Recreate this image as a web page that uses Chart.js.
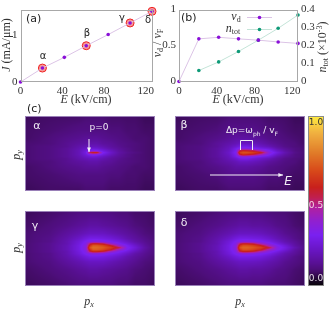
<!DOCTYPE html>
<html>
<head>
<meta charset="utf-8">
<script src="https://cdn.jsdelivr.net/npm/chart.js@4"></script>
<style>
    html, body { margin: 0; padding: 0; background: #fff; }
    #page { position: relative; width: 330px; height: 315px; overflow: hidden; }
    canvas { position: absolute; }
</style>
</head>
<body>
<div id="page">
    <canvas id="chartA" width="165" height="110" style="left:0;top:0"></canvas>
    <canvas id="chartB" width="180" height="110" style="left:150px;top:0"></canvas>
    <canvas id="panelAlpha" width="165" height="100" style="left:0;top:100px"></canvas>
    <canvas id="panelBeta" width="141" height="100" style="left:165px;top:100px"></canvas>
    <canvas id="panelGamma" width="165" height="115" style="left:0;top:200px"></canvas>
    <canvas id="panelDelta" width="141" height="115" style="left:165px;top:200px"></canvas>
    <canvas id="colorBar" width="24" height="190" style="left:306px;top:106px"></canvas>
</div>
<script>
// field values (kV/cm)
const fields = [0, 21, 42, 63, 84, 105, 126];
const fieldTicks = [0, 40, 80, 120];

// panel (a)
const currentValues = [0, 0.30, 0.53, 0.78, 1.02, 1.27, 1.52];
const markedFields = [21, 63, 105, 126];
const markedCurrents = [0.30, 0.78, 1.27, 1.52];
const currentTicks = [0, 1];

// panel (b)
const driftValues = [0, 0.593, 0.615, 0.593, 0.575, 0.55, 0.53];
const densityFields = [21, 42, 63, 84, 105, 126];
const densityValues = [0.061, 0.109, 0.167, 0.23, 0.296, 0.37];
const driftTicks = [0, 0.5, 1];
const densityTicks = [0, 0.1, 0.2, 0.3, 0.4];

// colour scale
const mapLevels = [0, 0.04, 0.08, 0.10, 0.14, 0.22, 0.30, 0.38, 0.46, 0.52, 0.58, 0.68, 0.78, 0.90, 1];
const mapColors = ['#050205', '#1f0730', '#430c66', '#4e0e7c', '#5a1098', '#6a16c8', '#7a20f0', '#9020d0',
    '#b020a0', '#c01f50', '#c8201c', '#d84a1a', '#e07a28', '#f0b040', '#ffec40'];
const barLevels = [0, 0.5, 1];

// heat map nodes, rows are mirrored about py = 0
const pxNodes = [0, 25, 42, 54, 61, 65, 68, 72, 78, 86, 94, 102, 110, 120, 130];
const pyNodes = [0, 2, 4, 6, 9, 14, 22, 38];

const alphaRows = [
    [.09, .11, .14, .19, .27, .55, .60, .60, .31, .22, .16, .13, .11, .09, .08],
    [.09, .11, .14, .19, .25, .30, .32, .31, .26, .20, .15, .12, .10, .09, .08],
    [.09, .11, .14, .18, .22, .24, .25, .24, .21, .17, .14, .12, .10, .09, .08],
    [.09, .11, .13, .17, .19, .20, .20, .20, .18, .15, .13, .11, .10, .09, .08],
    [.09, .10, .13, .15, .16, .17, .17, .17, .15, .14, .12, .11, .10, .09, .08],
    [.08, .10, .12, .13, .14, .14, .14, .14, .13, .12, .11, .10, .09, .09, .08],
    [.08, .09, .10, .11, .11, .11, .11, .11, .11, .10, .10, .09, .09, .08, .08],
    [.07, .08, .08, .08, .09, .09, .09, .09, .09, .08, .08, .08, .08, .07, .07]
];
const betaRows = [
    [.09, .11, .15, .22, .32, .66, .70, .70, .66, .58, .36, .26, .18, .12, .09],
    [.09, .11, .15, .21, .30, .54, .60, .58, .54, .42, .31, .22, .16, .11, .09],
    [.09, .11, .15, .20, .28, .34, .36, .35, .32, .28, .25, .18, .14, .11, .09],
    [.09, .11, .14, .19, .23, .27, .28, .28, .25, .22, .19, .15, .12, .10, .09],
    [.09, .10, .14, .17, .19, .21, .21, .21, .20, .18, .15, .13, .11, .10, .08],
    [.08, .10, .12, .14, .16, .16, .16, .16, .15, .14, .12, .11, .10, .09, .08],
    [.08, .09, .10, .12, .12, .12, .12, .12, .12, .11, .10, .10, .09, .08, .08],
    [.07, .08, .08, .09, .09, .09, .09, .09, .09, .09, .08, .08, .08, .07, .07]
];
const gammaRows = [
    [.09, .13, .19, .27, .36, .70, .76, .75, .72, .65, .54, .32, .25, .16, .10],
    [.09, .13, .19, .27, .35, .62, .72, .72, .68, .58, .40, .30, .23, .15, .10],
    [.09, .13, .18, .26, .33, .52, .58, .58, .54, .40, .31, .26, .20, .14, .10],
    [.09, .12, .18, .25, .31, .33, .35, .35, .33, .30, .27, .22, .17, .13, .10],
    [.09, .12, .17, .22, .26, .28, .28, .28, .27, .25, .22, .18, .15, .12, .09],
    [.09, .11, .15, .18, .20, .21, .21, .21, .21, .19, .17, .15, .13, .10, .09],
    [.08, .10, .12, .14, .15, .16, .16, .16, .15, .14, .13, .12, .10, .09, .08],
    [.07, .08, .09, .10, .10, .10, .10, .10, .10, .10, .09, .09, .08, .08, .07]
];
const deltaRows = [
    [.09, .13, .19, .27, .36, .70, .74, .74, .71, .66, .55, .34, .27, .18, .11],
    [.09, .13, .19, .27, .35, .63, .70, .70, .67, .59, .42, .32, .25, .16, .11],
    [.09, .13, .18, .26, .33, .52, .57, .57, .54, .42, .33, .27, .21, .15, .10],
    [.09, .12, .18, .25, .31, .33, .35, .35, .34, .31, .28, .23, .18, .14, .10],
    [.09, .12, .17, .22, .26, .28, .28, .28, .27, .26, .23, .19, .16, .12, .09],
    [.09, .11, .15, .18, .20, .21, .21, .21, .21, .20, .18, .16, .13, .11, .09],
    [.08, .10, .12, .14, .15, .16, .16, .16, .15, .15, .14, .12, .11, .09, .08],
    [.07, .08, .09, .10, .10, .10, .10, .10, .10, .10, .09, .09, .09, .08, .07]
];

const SANS = '"DejaVu Sans"';
const SERIF = '"Liberation Serif"';
const AXIS_COLOR = '#333';
const WHITE = '#f0ecf4';
const LINE_PURPLE = '#dcc4e6';
const LINE_GREEN = '#c4e4d8';
const MARK_PURPLE = '#8a10d8';
const MARK_GREEN = '#0f9a78';

function hexToRgb(hex) {
    return [1, 3, 5].map(i => parseInt(hex.substr(i, 2), 16));
}

// position of v between two neighbouring nodes
function bracket(nodes, v) {
    let i = 0;
    while (i < nodes.length - 2 && v > nodes[i + 1]) i++;
    const t = (v - nodes[i]) / (nodes[i + 1] - nodes[i]);
    return [i, Math.min(1, Math.max(0, t))];
}

function colorOf(v) {
    const [i, t] = bracket(mapLevels, v);
    const a = hexToRgb(mapColors[i]);
    const b = hexToRgb(mapColors[i + 1]);
    return a.map((c, k) => c + (b[k] - c) * t);
}

// text label on the canvas
function label(ctx, text, x, y, font, color, align) {
    ctx.save();
    ctx.font = font;
    ctx.fillStyle = color;
    ctx.textAlign = align || 'center';
    ctx.textBaseline = 'middle';
    ctx.fillText(text, x, y);
    ctx.restore();
}

// mixed italic / subscript text, centred on x, y
function richLabel(ctx, runs, x, y, angle, color) {
    ctx.save();
    ctx.translate(x, y);
    ctx.rotate(angle || 0);
    ctx.textBaseline = 'middle';
    ctx.textAlign = 'left';
    ctx.fillStyle = color || AXIS_COLOR;
    let width = 0;
    runs.forEach(r => { ctx.font = r.font; width += ctx.measureText(r.text).width; });
    let pos = -width / 2;
    runs.forEach(r => {
        ctx.font = r.font;
        ctx.fillText(r.text, pos, r.dy || 0);
        pos += ctx.measureText(r.text).width;
    });
    ctx.restore();
}

function framePlugin(color) {
    return {
        id: 'frame',
        afterDraw(chart) {
            const a = chart.chartArea;
            const ctx = chart.ctx;
            ctx.save();
            ctx.strokeStyle = color;
            ctx.lineWidth = 1;
            ctx.strokeRect(Math.round(a.left) + 0.5, Math.round(a.top) + 0.5,
                Math.round(a.width) - 1, Math.round(a.height) - 1);
            ctx.restore();
        }
    };
}

function textPlugin(draw) {
    return {
        id: 'texts',
        afterDraw(chart) { draw(chart.ctx, chart); }
    };
}

// paints the value grid through the chart scales
function heatPlugin(xNodes, yNodes, rows, mirrored) {
    return {
        id: 'heat',
        beforeDatasetsDraw(chart) {
            const a = chart.chartArea;
            const w = Math.round(a.width);
            const h = Math.round(a.height);
            const image = chart.ctx.createImageData(w, h);
            for (let py = 0; py < h; py++) {
                let yv = chart.scales.y.getValueForPixel(a.top + py + 0.5);
                if (mirrored) yv = Math.abs(yv);
                const [j, tj] = bracket(yNodes, yv);
                for (let px = 0; px < w; px++) {
                    const xv = chart.scales.x.getValueForPixel(a.left + px + 0.5);
                    const [i, ti] = xNodes.length > 1 ? bracket(xNodes, xv) : [0, 0];
                    const r0 = rows[j], r1 = rows[j + 1];
                    const i1 = Math.min(i + 1, r0.length - 1);
                    const low = r0[i] + (r0[i1] - r0[i]) * ti;
                    const high = r1[i] + (r1[i1] - r1[i]) * ti;
                    const c = colorOf(low + (high - low) * tj);
                    const k = (py * w + px) * 4;
                    image.data[k] = c[0];
                    image.data[k + 1] = c[1];
                    image.data[k + 2] = c[2];
                    image.data[k + 3] = 255;
                }
            }
            chart.ctx.putImageData(image, Math.round(a.left), Math.round(a.top));
        }
    };
}

function tickScale(ticks, extra) {
    return Object.assign({
        afterBuildTicks(scale) { scale.ticks = ticks.map(v => ({ value: v })); },
        grid: { display: false, drawTicks: false },
        border: { display: false },
        ticks: {
            autoSkip: false,
            maxRotation: 0,
            padding: 3,
            color: AXIS_COLOR,
            font: { family: 'Liberation Serif', size: 11 },
            callback: v => String(v)
        }
    }, extra);
}

function fixedWidth(w) {
    return function(scale) { scale.width = w; };
}

function fixedHeight(h) {
    return function(scale) { scale.height = h; };
}

function pairs(xs, ys) {
    return xs.map((x, i) => ({ x: x, y: ys[i] }));
}

function fieldLabel(ctx, x, y) {
    richLabel(ctx, [
        { text: 'E', font: 'italic 12px ' + SERIF },
        { text: ' (kV/cm)', font: '12px ' + SERIF }
    ], x, y);
}

function createCurrentChart() {
    new Chart(document.getElementById('chartA'), {
        type: 'scatter',
        data: {
            datasets: [{
                data: pairs(fields, currentValues),
                showLine: true,
                borderColor: LINE_PURPLE,
                borderWidth: 1,
                pointRadius: 1.8,
                pointBackgroundColor: MARK_PURPLE,
                pointBorderWidth: 0,
                clip: false
            }, {
                data: pairs(markedFields, markedCurrents),
                pointRadius: 4,
                pointBackgroundColor: '#f59a9a',
                pointBorderColor: '#f02020',
                pointBorderWidth: 1,
                clip: false
            }]
        },
        options: {
            responsive: false,
            animation: false,
            layout: { padding: { top: 8, right: 13 } },
            plugins: { legend: { display: false }, tooltip: { enabled: false } },
            scales: {
                x: tickScale(fieldTicks, { min: 0, max: 126, afterFit: fixedHeight(28) }),
                y: tickScale(currentTicks, { min: 0, max: 1.557, afterFit: fixedWidth(20.5) })
            }
        },
        plugins: [framePlugin('#a8a8a8'), textPlugin(function(ctx) {
            label(ctx, '(a)', 26, 19, '11px ' + SANS, '#222', 'left');
            label(ctx, 'α', 43, 56, '10px ' + SANS, '#222');
            label(ctx, 'β', 87, 33, '10px ' + SANS, '#222');
            label(ctx, 'γ', 122, 18, '10px ' + SANS, '#222');
            label(ctx, 'δ', 148, 20, '10px ' + SANS, '#222');
            fieldLabel(ctx, 86, 100);
            richLabel(ctx, [
                { text: 'J', font: 'italic 12px ' + SERIF },
                { text: ' (mA/μm)', font: '12px ' + SERIF }
            ], 7, 45, -Math.PI / 2);
        })]
    });
}

function createDriftChart() {
    new Chart(document.getElementById('chartB'), {
        type: 'scatter',
        data: {
            datasets: [{
                data: pairs(fields, driftValues),
                showLine: true,
                borderColor: LINE_PURPLE,
                borderWidth: 1,
                pointRadius: 1.8,
                pointBackgroundColor: MARK_PURPLE,
                pointBorderWidth: 0,
                clip: false
            }, {
                data: pairs(densityFields, densityValues),
                yAxisID: 'y1',
                showLine: true,
                borderColor: LINE_GREEN,
                borderWidth: 1,
                pointRadius: 1.8,
                pointBackgroundColor: MARK_GREEN,
                pointBorderWidth: 0,
                clip: false
            }]
        },
        options: {
            responsive: false,
            animation: false,
            layout: { padding: { top: 8.5 } },
            plugins: { legend: { display: false }, tooltip: { enabled: false } },
            scales: {
                x: tickScale(fieldTicks, { min: 0, max: 126, afterFit: fixedHeight(28.5) }),
                y: tickScale(driftTicks, { min: 0, max: 1, afterFit: fixedWidth(29) }),
                y1: tickScale(densityTicks, { min: 0, max: 0.4, position: 'right', afterFit: fixedWidth(32) })
            }
        },
        plugins: [framePlugin('#a8a8a8'), textPlugin(function(ctx) {
            label(ctx, '(b)', 31, 18, '11px ' + SANS, '#222', 'left');
            fieldLabel(ctx, 88, 100);
            richLabel(ctx, [
                { text: 'v', font: 'italic 12px ' + SERIF },
                { text: 'd', font: '8px ' + SERIF, dy: 3 },
                { text: ' / ', font: '12px ' + SERIF },
                { text: 'v', font: 'italic 12px ' + SERIF },
                { text: 'F', font: '8px ' + SERIF, dy: 3 }
            ], 8, 43, -Math.PI / 2);
            richLabel(ctx, [
                { text: 'n', font: 'italic 12px ' + SERIF },
                { text: 'tot', font: '8px ' + SERIF, dy: 3 },
                { text: ' (×10', font: '12px ' + SERIF },
                { text: '-3', font: '8px ' + SERIF, dy: -3 },
                { text: ')', font: '12px ' + SERIF }
            ], 173, 47, -Math.PI / 2);
            // legend
            richLabel(ctx, [
                { text: 'v', font: 'italic 12px ' + SERIF },
                { text: 'd', font: '8px ' + SERIF, dy: 3 }
            ], 86, 17);
            richLabel(ctx, [
                { text: 'n', font: 'italic 12px ' + SERIF },
                { text: 'tot', font: '8px ' + SERIF, dy: 3 }
            ], 83, 29);
            [[17, LINE_PURPLE, MARK_PURPLE], [29, LINE_GREEN, MARK_GREEN]].forEach(function(key) {
                ctx.save();
                ctx.strokeStyle = key[1];
                ctx.beginPath();
                ctx.moveTo(97, key[0] + 0.5);
                ctx.lineTo(122, key[0] + 0.5);
                ctx.stroke();
                ctx.fillStyle = key[2];
                ctx.beginPath();
                ctx.arc(109.5, key[0] + 0.5, 1.8, 0, Math.PI * 2);
                ctx.fill();
                ctx.restore();
            });
        })]
    });
}

// one momentum panel
function createPanel(id, rows, bounds, draw) {
    const isLeft = id === 'panelAlpha' || id === 'panelGamma';
    new Chart(document.getElementById(id), {
        type: 'scatter',
        data: { datasets: [{ data: [], pointRadius: 0 }] },
        options: {
            responsive: false,
            animation: false,
            layout: { padding: { left: isLeft ? 25 : 10, right: isLeft ? 10 : 1, top: bounds.top, bottom: bounds.bottom } },
            plugins: { legend: { display: false }, tooltip: { enabled: false } },
            scales: {
                x: { display: false, min: 0, max: 130 },
                y: { display: false, min: -38.3, max: 36.7 }
            }
        },
        plugins: [heatPlugin(pxNodes, pyNodes, rows, true), framePlugin('#9a80b8'), textPlugin(draw)]
    });
}

function arrow(ctx, x0, y0, x1, y1) {
    const ang = Math.atan2(y1 - y0, x1 - x0);
    ctx.save();
    ctx.strokeStyle = '#f4f0f8';
    ctx.fillStyle = '#f4f0f8';
    ctx.lineWidth = 1;
    ctx.beginPath();
    ctx.moveTo(x0, y0);
    ctx.lineTo(x1, y1);
    ctx.stroke();
    ctx.beginPath();
    ctx.moveTo(x1, y1);
    ctx.lineTo(x1 - 5 * Math.cos(ang - 0.4), y1 - 5 * Math.sin(ang - 0.4));
    ctx.lineTo(x1 - 5 * Math.cos(ang + 0.4), y1 - 5 * Math.sin(ang + 0.4));
    ctx.closePath();
    ctx.fill();
    ctx.restore();
}

function pyLabel(ctx, y) {
    richLabel(ctx, [
        { text: 'p', font: 'italic 12px ' + SERIF },
        { text: 'y', font: 'italic 8px ' + SERIF, dy: 3 }
    ], 17, y, -Math.PI / 2);
}

function pxLabel(ctx, x) {
    richLabel(ctx, [
        { text: 'p', font: 'italic 12px ' + SERIF },
        { text: 'x', font: 'italic 8px ' + SERIF, dy: 3 }
    ], x, 102);
}

function createPanels() {
    const upper = { top: 16, bottom: 9 };
    const lower = { top: 11, bottom: 29 };

    createPanel('panelAlpha', alphaRows, upper, function(ctx) {
        label(ctx, '(c)', 27, 9, '11px ' + SANS, '#222', 'left');
        label(ctx, 'α', 37, 26, '11px ' + SANS, WHITE);
        label(ctx, 'p=0', 99, 28, '9px ' + SANS, WHITE);
        arrow(ctx, 89, 39, 89, 52);
        pyLabel(ctx, 55);
    });

    createPanel('panelBeta', betaRows, upper, function(ctx) {
        label(ctx, 'β', 19, 25, '11px ' + SANS, WHITE);
        richLabel(ctx, [
            { text: 'Δp=ω', font: '9px ' + SANS },
            { text: 'ph', font: '6px ' + SANS, dy: 3 },
            { text: ' / v', font: '9px ' + SANS },
            { text: 'F', font: '6px ' + SANS, dy: 3 }
        ], 87, 31, 0, WHITE);
        ctx.save();
        ctx.strokeStyle = WHITE;
        ctx.lineWidth = 1;
        ctx.beginPath();
        ctx.moveTo(75.5, 50);
        ctx.lineTo(75.5, 40.5);
        ctx.lineTo(87.5, 40.5);
        ctx.lineTo(87.5, 50);
        ctx.stroke();
        ctx.restore();
        arrow(ctx, 45, 75, 118, 75);
        label(ctx, 'E', 123, 82, 'italic 12px ' + SANS, WHITE);
    });

    createPanel('panelGamma', gammaRows, lower, function(ctx) {
        label(ctx, 'γ', 35, 26, '11px ' + SANS, WHITE);
        pyLabel(ctx, 48);
        pxLabel(ctx, 89);
    });

    createPanel('panelDelta', deltaRows, lower, function(ctx) {
        label(ctx, 'δ', 19, 23, '11px ' + SANS, WHITE);
        pxLabel(ctx, 75);
    });
}

function createColorBar() {
    new Chart(document.getElementById('colorBar'), {
        type: 'scatter',
        data: { datasets: [{ data: [], pointRadius: 0 }] },
        options: {
            responsive: false,
            animation: false,
            layout: { padding: { left: 2, right: 6, top: 10, bottom: 10 } },
            plugins: { legend: { display: false }, tooltip: { enabled: false } },
            scales: {
                x: { display: false, min: 0, max: 1 },
                y: { display: false, min: 0, max: 1 }
            }
        },
        plugins: [heatPlugin([0], mapLevels, mapLevels.map(v => [v]), false), framePlugin('#8a8a8a'),
            textPlugin(function(ctx, chart) {
                const y = chart.scales.y;
                const cx = chart.chartArea.left + chart.chartArea.width / 2;
                const offsets = [-7, 5, 7];
                const colors = ['#e8e0e8', '#f4d8e4', '#333'];
                barLevels.forEach(function(v, i) {
                    label(ctx, v.toFixed(1), cx, y.getPixelForValue(v) + offsets[i], '9px ' + SANS, colors[i]);
                });
            })]
    });
}

document.addEventListener('DOMContentLoaded', function() {
    createCurrentChart();
    createDriftChart();
    createPanels();
    createColorBar();
});
</script>
</body>
</html>
